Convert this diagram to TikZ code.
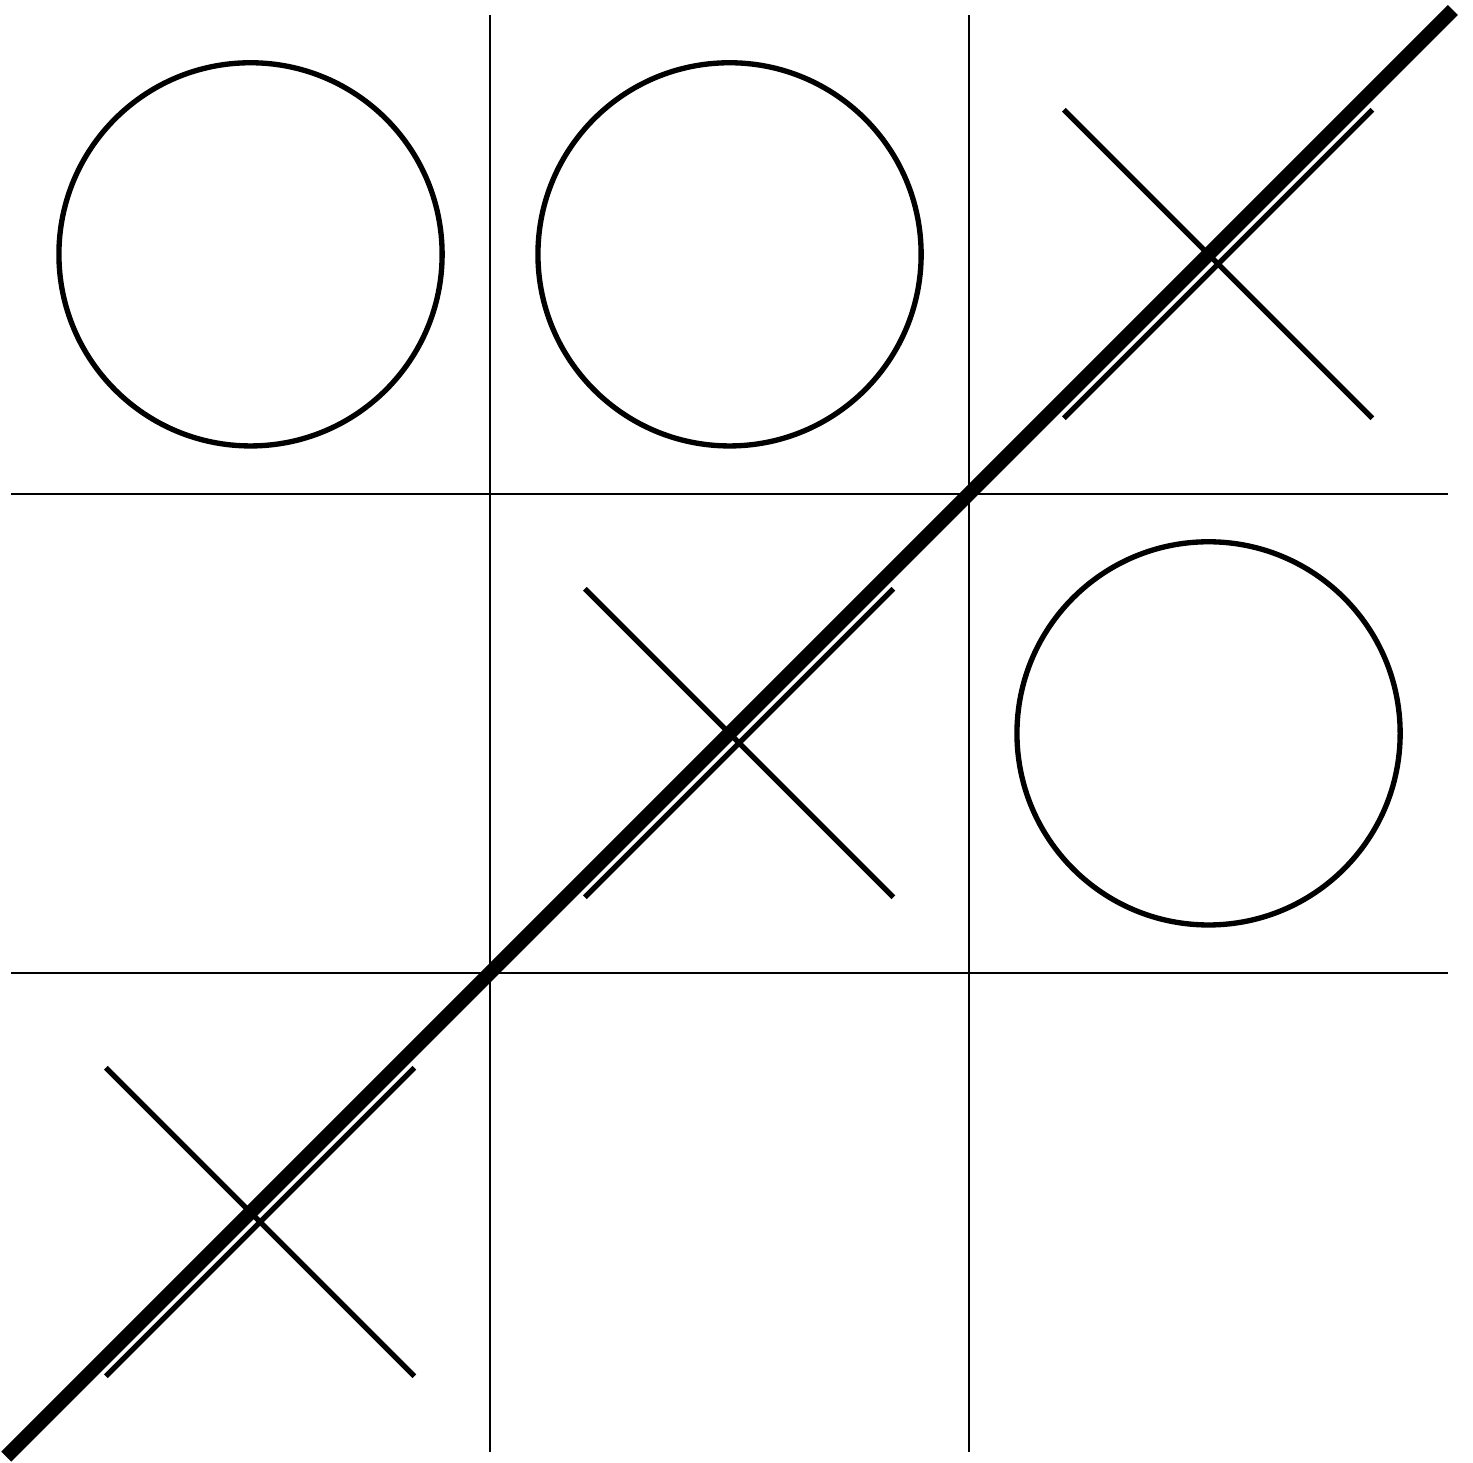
\documentclass[tikz,border=0pt]{standalone}
\usepackage{tikz}
\tikzset{
  gridline/.style={black, line width=0.4pt},
  playline/.style={black, line width=0.95pt},
  winline/.style={black, line width=2.5pt}
}

\begin{document}
\begin{tikzpicture}[scale=3]
  \useasboundingbox (-0.023,-0.023) rectangle (3.052,3.031);
  % board
  \foreach \k in {1,2} {
    \draw[gridline] (\k,0) -- (\k,3);
    \draw[gridline] (0,\k) -- (3,\k);
  }
  % noughts
  \foreach \cx/\cy in {0/2, 1/2, 2/1} {
    \draw[playline] (\cx+0.5, \cy+0.5) circle (0.4);
  }
  % crosses
  \foreach \cx/\cy in {2/2, 1/1, 0/0} {
    \pgfmathsetmacro\mx{\cx + 0.52}
    \pgfmathsetmacro\my{\cy + 0.48}
    \draw[playline] (\mx-0.322, \my-0.322) -- (\mx+0.322, \my+0.322);
    \draw[playline] (\mx-0.322, \my+0.322) -- (\mx+0.322, \my-0.322);
  }
  % winning row
  \draw[winline] (-0.01,-0.01) -- (3.01,3.01);
\end{tikzpicture}
\end{document}
